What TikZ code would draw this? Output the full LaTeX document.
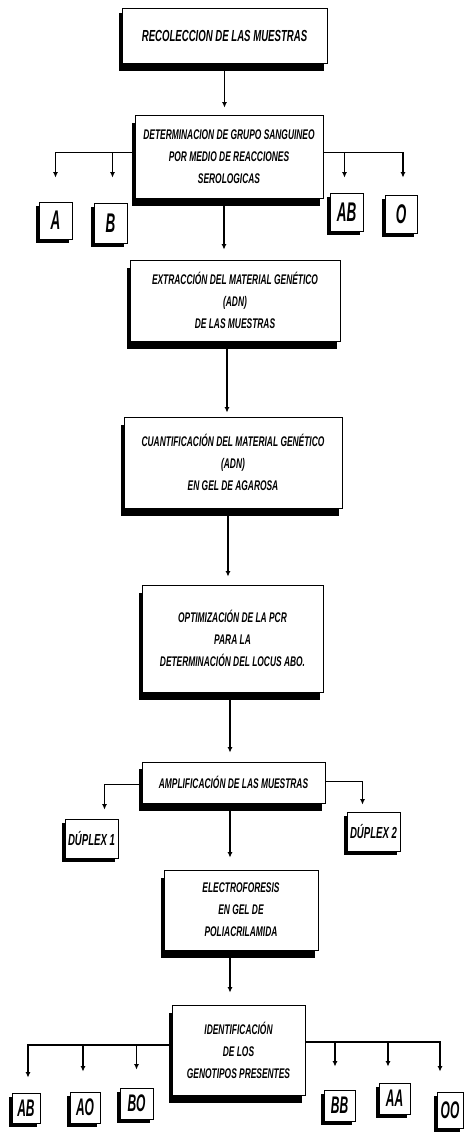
\documentclass[tikz,border=0pt]{standalone}
\usepackage{fontspec}
\newfontfamily\cf[FakeStretch=0.6]{Liberation Sans}
\newfontfamily\cfn[FakeStretch=0.5]{Liberation Sans}
\usetikzlibrary{shadows,arrows.meta}
\begin{document}
\begin{tikzpicture}[x=1pt,y=-1pt,
 bigbox/.style={draw, fill=white, line width=0.8pt, align=center, inner sep=0pt,
   font=\cf\bfseries\itshape\fontsize{14}{22}\selectfont,
   drop shadow={shadow xshift=-3pt, shadow yshift=-8pt, opacity=1, fill=black}},
 smallbox/.style={draw, fill=white, line width=0.8pt, inner sep=0pt,
   font=\cfn\bfseries\itshape\fontsize{24}{24}\selectfont,
   drop shadow={shadow xshift=-3pt, shadow yshift=-4pt, opacity=1, fill=black}},
 conn/.style={line width=1.7pt},
 arr/.style={conn, -{Latex[length=5.5pt,width=5pt]}},
]
\useasboundingbox (0,0) rectangle (464,1132);

% main boxes
\node[bigbox, minimum width=205pt, minimum height=55pt,
  font=\cf\bfseries\itshape\fontsize{16}{22}\selectfont,
  drop shadow={shadow xshift=-3pt, shadow yshift=-5pt, opacity=1, fill=black}]
  (b1) at (224.5,35.5) {RECOLECCION DE LAS MUESTRAS};
\node[bigbox, minimum width=188pt, minimum height=83pt] (b2) at (229,156.5)
  {DETERMINACION DE GRUPO SANGUINEO\\POR MEDIO DE REACCIONES\\SEROLOGICAS};
\node[bigbox, minimum width=210pt, minimum height=81pt] (b3) at (235,300.5)
  {EXTRACCIÓN DEL MATERIAL GENÉTICO\\(ADN)\\DE LAS MUESTRAS};
\node[bigbox, minimum width=218pt, minimum height=91pt] (b4) at (233,462.5)
  {CUANTIFICACIÓN DEL MATERIAL GENÉTICO\\(ADN)\\EN GEL DE AGAROSA};
\node[bigbox, minimum width=181pt, minimum height=107pt] (b5) at (232.5,638.5)
  {OPTIMIZACIÓN DE LA PCR\\PARA LA\\DETERMINACIÓN DEL LOCUS ABO.};
\node[bigbox, minimum width=183pt, minimum height=41pt,
  drop shadow={shadow xshift=-3pt, shadow yshift=-7pt, opacity=1, fill=black}]
  (b6) at (233.5,782.5) {AMPLIFICACIÓN DE LAS MUESTRAS};
\node[bigbox, minimum width=154pt, minimum height=80pt] (b7) at (241,910)
  {ELECTROFORESIS\\EN GEL DE\\POLIACRILAMIDA};
\node[bigbox, minimum width=133pt, minimum height=90pt] (b8) at (238.5,1050)
  {IDENTIFICACIÓN\\DE LOS\\GENOTIPOS PRESENTES};

% blood group boxes
\node[smallbox, minimum width=33pt, minimum height=37pt,
  font=\cfn\bfseries\itshape\fontsize{27}{27}\selectfont] (gA) at (55.5,220.5) {A};
\node[smallbox, minimum width=33pt, minimum height=40pt,
  font=\cfn\bfseries\itshape\fontsize{27}{27}\selectfont] (gB) at (110.5,223) {B};
\node[smallbox, minimum width=33pt, minimum height=38pt,
  font=\cfn\bfseries\itshape\fontsize{27}{27}\selectfont] (gAB) at (346.5,212) {AB};
\node[smallbox, minimum width=32pt, minimum height=38pt,
  font=\cfn\bfseries\itshape\fontsize{27}{27}\selectfont] (gO) at (401,214) {O};

% duplex boxes
\node[smallbox, minimum width=53pt, minimum height=39pt,
  font=\cf\bfseries\itshape\fontsize{16}{16}\selectfont] (d1) at (91.5,838.5) {DÚPLEX 1};
\node[smallbox, minimum width=53pt, minimum height=39pt,
  font=\cf\bfseries\itshape\fontsize{16}{16}\selectfont] (d2) at (373.5,831.5) {DÚPLEX 2};

% genotype boxes
\node[smallbox, minimum width=28pt, minimum height=30pt] (tAB) at (26,1108) {AB};
\node[smallbox, minimum width=30pt, minimum height=31pt] (tAO) at (85,1107.5) {AO};
\node[smallbox, minimum width=33pt, minimum height=31pt] (tBO) at (136.5,1103.5) {BO};
\node[smallbox, minimum width=31pt, minimum height=31pt] (tBB) at (339.5,1105.5) {BB};
\node[smallbox, minimum width=31pt, minimum height=31pt] (tAA) at (394.5,1098.5) {AA};
\node[smallbox, minimum width=26pt, minimum height=36pt] (tOO) at (450,1110) {OO};

% main flow
\draw[arr, shorten >=7pt] (b1.south) -- (b1.south |- b2.north);
\draw[arr, shorten >=10pt] ([xshift=-5pt]b2.south) -- ([xshift=-5pt]b2.south |- b3.north);
\draw[arr, shorten >=4pt] ([xshift=-8pt]b3.south) -- ([xshift=-8pt]b3.south |- b4.north);
\draw[arr, shorten >=8pt] ([xshift=-5pt]b4.south) -- ([xshift=-5pt]b4.south |- b5.north);
\draw[arr, shorten >=9pt] ([xshift=-2.5pt]b5.south) -- ([xshift=-2.5pt]b5.south |- b6.north);
\draw[arr, shorten >=12pt] ([xshift=-3.5pt]b6.south) -- ([xshift=-3.5pt]b6.south |- b7.north);
\draw[arr, shorten >=12pt] ([xshift=-11pt]b7.south) -- ([xshift=-11pt]b7.south |- b8.north);

% blood group branches
\draw[arr] ([yshift=4pt]b2.west) -| ([yshift=24pt]gA.north);
\draw[arr] ([yshift=4pt]b2.west) -| ([xshift=2pt,yshift=25pt]gB.north);
\draw[arr] ([yshift=4pt]b2.east) -| ([xshift=-2pt,yshift=15pt]gAB.north);
\draw[arr] ([yshift=4pt]b2.east) -| ([xshift=2pt,yshift=17pt]gO.north);

% duplex branches
\draw[arr] ([yshift=-2pt]b6.west) -| ([xshift=13pt,yshift=9pt]d1.north);
\draw[arr] ([yshift=1pt]b6.east) -| ([xshift=-11pt,yshift=7pt]d2.north);

% genotype branches
\draw[arr] ([yshift=5pt]b8.west) -| ([xshift=2pt,yshift=15pt]tAB.north);
\draw[arr] ([yshift=5pt]b8.west) -| ([xshift=-2pt,yshift=20pt]tAO.north);
\draw[arr] ([yshift=5pt]b8.west) -| ([yshift=18pt]tBO.north);
\draw[arr] ([yshift=8pt]b8.east) -| ([xshift=-4.5pt,yshift=23pt]tBB.north);
\draw[arr] ([yshift=8pt]b8.east) -| ([xshift=-6.5pt,yshift=16pt]tAA.north);
\draw[arr] ([yshift=8pt]b8.east) -| ([xshift=-10pt,yshift=20pt]tOO.north);
\end{tikzpicture}
\end{document}
